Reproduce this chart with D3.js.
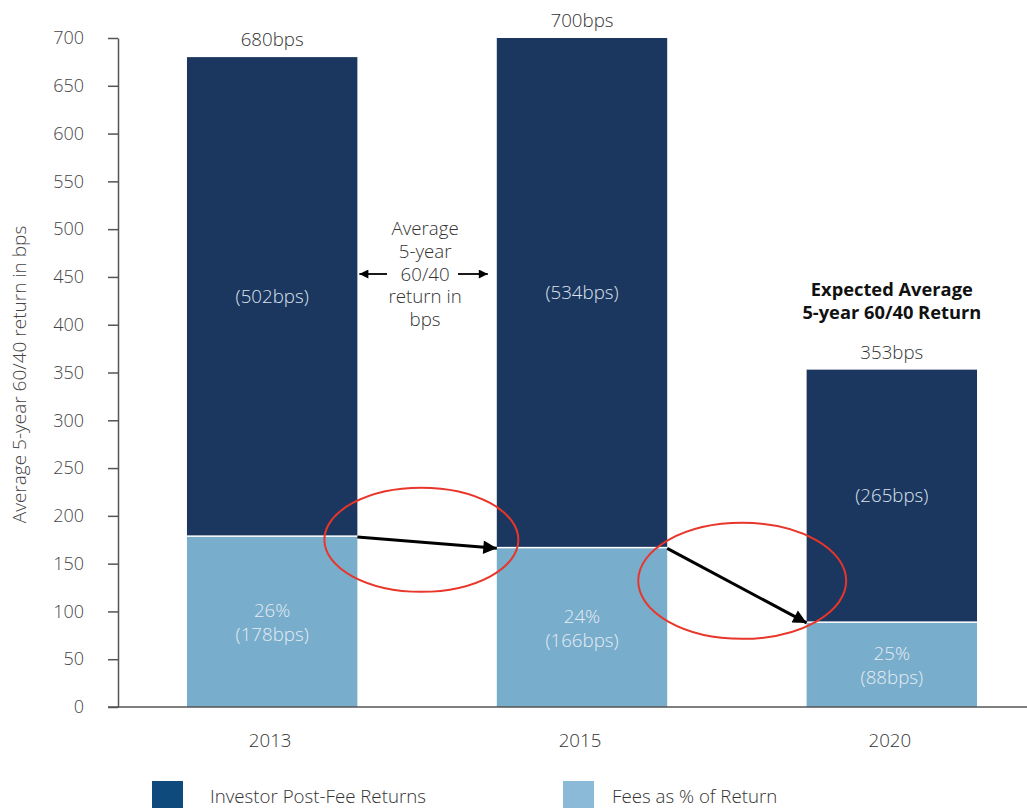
<!DOCTYPE html>
<html>
<head>
<meta charset="utf-8">
<script src="https://cdn.jsdelivr.net/npm/d3@7"></script>
<style>
  body { margin: 0; background: #fff; }
  svg text { font-family: "Open Sans", "Noto Sans", sans-serif; font-weight: 300; }
</style>
</head>
<body>
<div id="chart"></div>
<script>
// data
var years = ["2013", "2015", "2020"];
var totalBps = [680, 700, 353];
var feeBps = [178, 166, 88];
var postFeeBps = [502, 534, 265];
var feePct = ["26%", "24%", "25%"];
var yTicks = [0, 50, 100, 150, 200, 250, 300, 350, 400, 450, 500, 550, 600, 650, 700];
var legendLabels = ["Investor Post-Fee Returns", "Fees as % of Return"];

var darkColor = "#1b365f",
    lightColor = "#78adcc",
    legendColors = ["#0e4a7b", "#8bbad9"];

var width = 1027, height = 808;
var fs = "18.7px";

var svg = d3.select("#chart")
  .append("svg")
  .attr("width", width)
  .attr("height", height);

// scales
var x = d3.scaleBand()
  .domain(years)
  .range([118, 1046])
  .paddingInner(0.45)
  .paddingOuter(0.2226);

var y = d3.scaleLinear()
  .domain([0, 700])
  .range([707, 38]);

// y axis
var yAxis = svg.append("g")
  .attr("transform", "translate(118,0)")
  .call(d3.axisLeft(y).tickValues(yTicks).tickSize(10).tickSizeOuter(0).tickPadding(24));
yAxis.selectAll("path, line").attr("stroke", "#555").attr("stroke-width", 1.5);
yAxis.selectAll("text")
  .style("font-size", "18px")
  .attr("fill", "#444");

svg.append("text")
  .attr("transform", "translate(26," + (y(350) + 2) + ") rotate(-90)")
  .attr("text-anchor", "middle")
  .style("font-size", "19px")
  .attr("fill", "#444")
  .text("Average 5-year 60/40 return in bps");

// stacked bars
var bars = svg.append("g");
bars.selectAll(".fee")
  .data(years)
  .enter().append("rect")
  .attr("x", function(d) { return x(d); })
  .attr("width", x.bandwidth())
  .attr("y", function(d, i) { return y(feeBps[i]); })
  .attr("height", function(d, i) { return y(0) - y(feeBps[i]); })
  .attr("fill", lightColor);

bars.selectAll(".post")
  .data(years)
  .enter().append("rect")
  .attr("x", function(d) { return x(d); })
  .attr("width", x.bandwidth())
  .attr("y", function(d, i) { return y(totalBps[i]); })
  .attr("height", function(d, i) { return y(feeBps[i]) - y(totalBps[i]) - 1.5; })
  .attr("fill", darkColor);

// x axis line
svg.append("line")
  .attr("x1", 108).attr("x2", width)
  .attr("y1", y(0)).attr("y2", y(0))
  .attr("stroke", "#555").attr("stroke-width", 1.5);

svg.selectAll(".year")
  .data(years)
  .enter().append("text")
  .attr("x", function(d) { return x(d) + x.bandwidth() / 2 - 2; })
  .attr("y", 747)
  .attr("text-anchor", "middle")
  .style("font-size", fs)
  .attr("fill", "#333")
  .text(function(d) { return d; });

// labels inside / on top of bars
svg.selectAll(".total")
  .data(years)
  .enter().append("text")
  .attr("x", function(d) { return x(d) + x.bandwidth() / 2; })
  .attr("y", function(d, i) { return y(totalBps[i]) - 11; })
  .attr("text-anchor", "middle")
  .style("font-size", fs)
  .attr("fill", "#333")
  .text(function(d, i) { return totalBps[i] + "bps"; });

svg.selectAll(".postLabel")
  .data(years)
  .enter().append("text")
  .attr("x", function(d) { return x(d) + x.bandwidth() / 2; })
  .attr("y", function(d, i) { return y((feeBps[i] + totalBps[i]) / 2) + 6; })
  .attr("text-anchor", "middle")
  .style("font-size", fs)
  .attr("fill", "#dbe4ee")
  .text(function(d, i) { return "(" + postFeeBps[i] + "bps)"; });

var feeText = svg.selectAll(".feeLabel")
  .data(years)
  .enter().append("text")
  .attr("text-anchor", "middle")
  .style("font-size", fs)
  .attr("fill", "#e4ecf3");
feeText.append("tspan")
  .attr("x", function(d) { return x(d) + x.bandwidth() / 2; })
  .attr("y", function(d, i) { return y(feeBps[i] / 2) - 5; })
  .text(function(d, i) { return feePct[i]; });
feeText.append("tspan")
  .attr("x", function(d) { return x(d) + x.bandwidth() / 2; })
  .attr("y", function(d, i) { return y(feeBps[i] / 2) + 19; })
  .text(function(d, i) { return "(" + feeBps[i] + "bps)"; });

// arrow markers
var defs = svg.append("defs");
defs.append("marker")
  .attr("id", "head")
  .attr("viewBox", "0 0 10 10")
  .attr("refX", 10).attr("refY", 5)
  .attr("markerWidth", 5).attr("markerHeight", 4.5)
  .attr("markerUnits", "strokeWidth")
  .attr("orient", "auto")
  .append("path").attr("d", "M0,0L10,5L0,10z").attr("fill", "#000");
defs.append("marker")
  .attr("id", "small")
  .attr("viewBox", "0 0 10 10")
  .attr("refX", 10).attr("refY", 5)
  .attr("markerWidth", 7).attr("markerHeight", 5)
  .attr("markerUnits", "strokeWidth")
  .attr("orient", "auto")
  .append("path").attr("d", "M0,0L10,5L0,10z").attr("fill", "#000");

// middle annotation
var midX = (x("2013") + x.bandwidth() + x("2015")) / 2;
var noteLines = ["Average", "5-year", "60/40", "return in", "bps"];
svg.append("text")
  .attr("text-anchor", "middle")
  .style("font-size", fs)
  .attr("fill", "#333")
  .selectAll("tspan")
  .data(noteLines)
  .enter().append("tspan")
  .attr("x", midX - 2)
  .attr("y", function(d, i) { return 235 + i * 22.8; })
  .text(function(d) { return d; });

svg.append("line")
  .attr("x1", 387).attr("x2", x("2013") + x.bandwidth() + 2)
  .attr("y1", 274).attr("y2", 274)
  .attr("stroke", "#000").attr("stroke-width", 1.8)
  .attr("marker-end", "url(#small)");
svg.append("line")
  .attr("x1", 458).attr("x2", x("2015") - 9)
  .attr("y1", 274).attr("y2", 274)
  .attr("stroke", "#000").attr("stroke-width", 1.8)
  .attr("marker-end", "url(#small)");

// expected return note
svg.append("text")
  .attr("text-anchor", "middle")
  .style("font-size", "18.3px")
  .style("font-weight", "bold")
  .attr("fill", "#111")
  .selectAll("tspan")
  .data(["Expected Average", "5-year 60/40 Return"])
  .enter().append("tspan")
  .attr("x", x("2020") + x.bandwidth() / 2)
  .attr("y", function(d, i) { return 296 + i * 23; })
  .text(function(d) { return d; });

// fee trend arrows
for (var i = 0; i < years.length - 1; i++) {
  svg.append("line")
    .attr("x1", x(years[i]) + x.bandwidth())
    .attr("y1", y(feeBps[i]))
    .attr("x2", x(years[i + 1]))
    .attr("y2", y(feeBps[i + 1]))
    .attr("stroke", "#000").attr("stroke-width", 3)
    .attr("marker-end", "url(#head)");
}

// red circles
var rings = [
  {cx: x("2013") + x.bandwidth() + 64, cy: 175, rx: 97, ry: 52},
  {cx: x("2015") + x.bandwidth() + 75, cy: 132, rx: 104, ry: 58}
];
svg.selectAll(".ring")
  .data(rings)
  .enter().append("ellipse")
  .attr("cx", function(d) { return d.cx; })
  .attr("cy", function(d) { return y(d.cy); })
  .attr("rx", function(d) { return d.rx; })
  .attr("ry", function(d) { return d.ry; })
  .attr("fill", "none")
  .attr("stroke", "#e8362a")
  .attr("stroke-width", 2);

// legend
var legendX = [152, 563], legendGap = [58, 49];
var legend = svg.selectAll(".legend")
  .data(legendLabels)
  .enter().append("g")
  .attr("transform", function(d, i) { return "translate(" + legendX[i] + ",781)"; });
legend.append("rect")
  .attr("width", 31).attr("height", 32)
  .attr("fill", function(d, i) { return legendColors[i]; });
legend.append("text")
  .attr("x", function(d, i) { return legendGap[i]; })
  .attr("y", 22)
  .style("font-size", fs)
  .attr("fill", "#333")
  .text(function(d) { return d; });
</script>
</body>
</html>
